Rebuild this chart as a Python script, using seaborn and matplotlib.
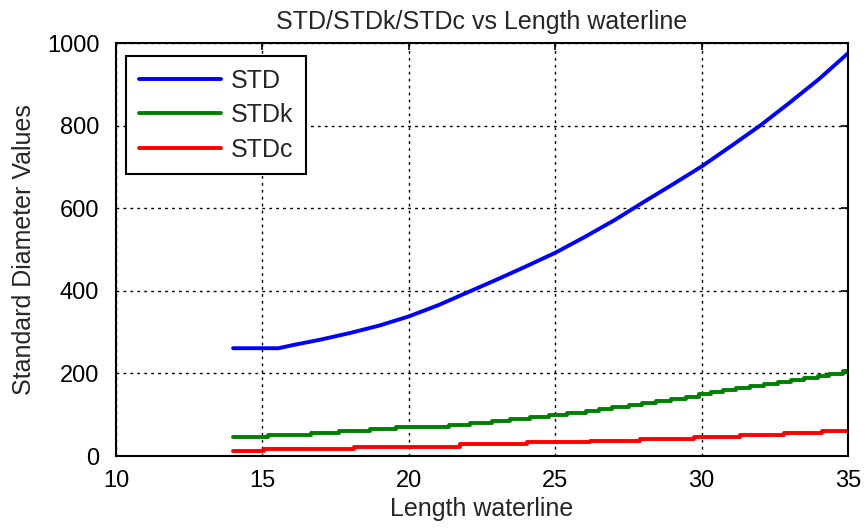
import matplotlib
matplotlib.use("Agg")
import matplotlib.pyplot as plt
import seaborn as sns
import pandas as pd

# Standard diameter vs length waterline
std_L = [14, 15, 15.55, 16, 17, 18, 19, 20, 21, 22, 23, 24, 25, 26, 27, 28, 29, 30,
         31, 32, 33, 34, 35]
std_vals = [261, 261, 261, 268, 282, 298, 316, 338, 365, 396, 427, 459, 492, 530, 570,
            614, 657, 701, 750, 800, 855, 912, 975]

# STDk: stepped values (length where each level starts)
stdk_L = [14.0, 15.18, 16.66, 17.63, 18.66, 19.57, 21.36, 22.1, 22.84, 23.47, 24.15,
          24.78, 25.41, 26.04, 26.5, 26.95, 27.52, 27.98, 28.44, 28.95, 29.47, 29.92,
          30.32, 30.72, 31.18, 31.64, 32.15, 32.6, 33.06, 33.51, 33.97, 34.37, 34.83, 35.0]
stdk_vals = [46, 51, 56, 61, 65, 70, 76, 81, 85, 90, 95, 100, 105, 110, 114, 119, 124,
             129, 134, 139, 144, 149, 154, 159, 164, 169, 174, 179, 184, 189, 194, 199,
             205, 205]

# STDc: stepped values
stdc_L = [14.0, 15.06, 18.14, 21.76, 24.04, 26.2, 27.9, 29.73, 31.33, 32.81, 34.13, 35.0]
stdc_vals = [13, 18, 23, 28, 33, 37, 41, 46, 51, 56, 61, 61]

x_ticks = [10, 15, 20, 25, 30, 35]
y_ticks = [0, 200, 400, 600, 800, 1000]

sns.set_theme(style="white")
plt.rcParams["font.family"] = ["Liberation Sans", "DejaVu Sans"]

fig = plt.figure(figsize=(8.67, 5.31), dpi=100)
ax = fig.add_axes([0.1338, 0.1412, 0.8442, 0.7778])

df_std = pd.DataFrame({"L": std_L, "v": std_vals})
df_k = pd.DataFrame({"L": stdk_L, "v": stdk_vals})
df_c = pd.DataFrame({"L": stdc_L, "v": stdc_vals})

lw = 2.8
sns.lineplot(data=df_std, x="L", y="v", color="#0000ff", lw=lw, ax=ax,
             estimator=None, sort=False, label="STD")
sns.lineplot(data=df_k, x="L", y="v", color="#008000", lw=lw, ax=ax,
             estimator=None, sort=False, drawstyle="steps-post", label="STDk")
sns.lineplot(data=df_c, x="L", y="v", color="#ff0000", lw=lw, ax=ax,
             estimator=None, sort=False, drawstyle="steps-post", label="STDc")

ax.set_xlim(10, 35)
ax.set_ylim(0, 1000)
ax.set_xticks(x_ticks)
ax.set_yticks(y_ticks)
ax.grid(True, color="black", linestyle=(0, (2, 3)), linewidth=1.0)
ax.set_axisbelow(True)
for s in ax.spines.values():
    s.set_color("black")
    s.set_linewidth(1.5)
    s.set_visible(True)
ax.tick_params(direction="in", length=5, width=1.2, colors="black",
               top=True, right=True, labelsize=17)
ax.tick_params(axis="x", pad=10)
ax.tick_params(axis="y", pad=12)

ax.set_title("STD/STDk/STDc vs Length waterline", fontsize=18, pad=10)
ax.set_xlabel("Length waterline", fontsize=18, labelpad=4)
ax.set_ylabel("Standard Diameter Values", fontsize=18, labelpad=8)

leg = ax.legend(loc="upper left", bbox_to_anchor=(0.0137, 0.9685), borderaxespad=0,
                frameon=True, fancybox=False, framealpha=1, edgecolor="black",
                fontsize=18, handlelength=3.3, handletextpad=0.4, borderpad=0.5,
                labelspacing=0.42)
leg.get_frame().set_linewidth(1.5)

fig.savefig("out.png", dpi=100)
